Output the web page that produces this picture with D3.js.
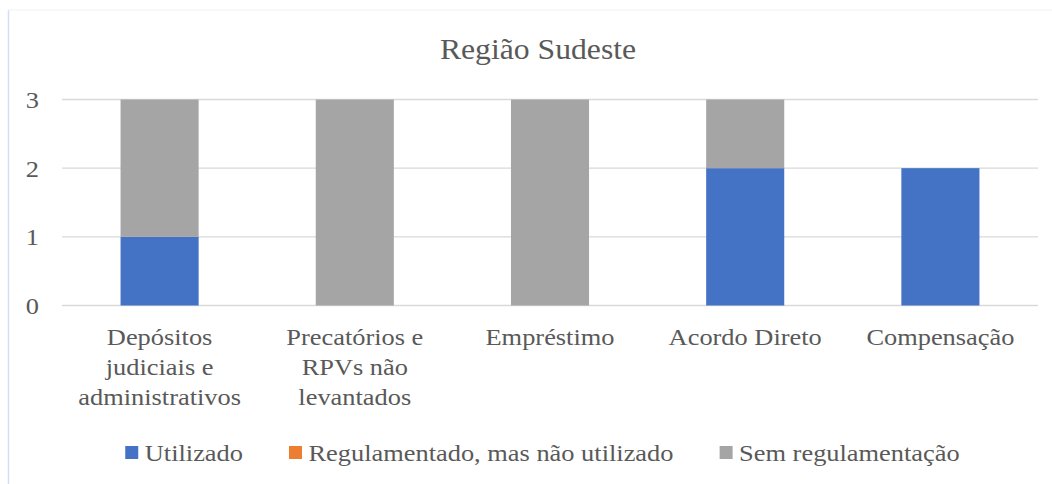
<!DOCTYPE html>
<html>
<head>
<meta charset="utf-8">
<script src="https://cdn.jsdelivr.net/npm/d3@7/dist/d3.min.js"></script>
<style>
  html, body { margin: 0; padding: 0; background: #fff; }
  svg { display: block; }
  text { font-family: "Liberation Serif", "Times New Roman", serif; fill: #595959; }
</style>
</head>
<body>
<svg id="chart" width="1052" height="484"></svg>
<script>
const title = "Região Sudeste";
const categories = [
  ["Depósitos", "judiciais e", "administrativos"],
  ["Precatórios e", "RPVs não", "levantados"],
  ["Empréstimo"],
  ["Acordo Direto"],
  ["Compensação"]
];
const seriesNames = ["Utilizado", "Regulamentado, mas não utilizado", "Sem regulamentação"];
const utilizado = [1, 0, 0, 2, 2];
const regulamentado = [0, 0, 0, 0, 0];
const semRegulamentacao = [2, 3, 3, 1, 0];
const yTicks = [0, 1, 2, 3];
const colors = ["#4472c4", "#ed7d31", "#a5a5a5"];

const svg = d3.select("#chart");
const W = 1052, H = 484;
const plot = { left: 62, right: 1038, top: 99.5, bottom: 305.5 };
const SX = 1.1; // horizontal text stretch seen in the reference
const FS = 24;

// chart area frame
svg.append("line").attr("x1", 8.5).attr("x2", 8.5).attr("y1", 10).attr("y2", H)
  .attr("stroke", "#d3def0").attr("stroke-width", 1.5);
svg.append("line").attr("x1", 8.5).attr("x2", W).attr("y1", 10).attr("y2", 10)
  .attr("stroke", "#eef1f8").attr("stroke-width", 1);

const keys = seriesNames.map((d, i) => "s" + i);
const rows = categories.map((c, i) => ({ cat: c.join(" "), s0: utilizado[i], s1: regulamentado[i], s2: semRegulamentacao[i] }));
const stack = d3.stack().keys(keys)(rows);

const x = d3.scaleBand().domain(rows.map(r => r.cat)).range([plot.left, plot.right])
  .paddingInner(0.6).paddingOuter(0.3);
const y = d3.scaleLinear().domain([0, 3]).range([plot.bottom, plot.top]);

// gridlines
svg.append("g").selectAll("line").data(yTicks).join("line")
  .attr("x1", plot.left).attr("x2", plot.right)
  .attr("y1", d => y(d)).attr("y2", d => y(d))
  .attr("stroke", "#d9d9d9").attr("stroke-width", 1.3);

// y tick labels
svg.append("g").selectAll("text").data(yTicks).join("text")
  .attr("transform", d => `translate(39,${y(d) + 8.5}) scale(${SX},1)`)
  .attr("text-anchor", "end")
  .attr("font-size", FS)
  .text(d => d);

// bars
svg.append("g").selectAll("g").data(stack).join("g")
  .attr("fill", (d, i) => colors[i])
  .selectAll("rect").data(d => d).join("rect")
  .attr("x", d => x(d.data.cat))
  .attr("width", x.bandwidth())
  .attr("y", d => y(d[1]))
  .attr("height", d => y(d[0]) - y(d[1]));

// category labels
const cg = svg.append("g").selectAll("g").data(rows).join("g");
cg.each(function(r, i) {
  const g = d3.select(this);
  categories[i].forEach((line, j) => {
    g.append("text")
      .attr("transform", `translate(${x(r.cat) + x.bandwidth() / 2},${345 + j * 30}) scale(${SX},1)`)
      .attr("text-anchor", "middle")
      .attr("font-size", FS)
      .text(line);
  });
});

// title
svg.append("text")
  .attr("transform", `translate(538,59) scale(${SX},1)`)
  .attr("text-anchor", "middle")
  .attr("font-size", 28.8)
  .text(title);

// legend
const legend = svg.append("g");
const items = legend.selectAll("g").data(seriesNames).join("g");
items.append("rect").attr("width", 13).attr("height", 13).attr("y", 446)
  .attr("fill", (d, i) => colors[i]);
items.append("text").attr("font-size", FS).text(d => d);
const widths = [];
items.select("text").each(function() { widths.push(this.getComputedTextLength() * SX); });
const sq = 13, gapT = 6.5, gapI = 46;
const total = d3.sum(widths) + seriesNames.length * (sq + gapT) + (seriesNames.length - 1) * gapI;
let cx = 542.5 - total / 2;
items.each(function(d, i) {
  const g = d3.select(this);
  g.select("rect").attr("x", cx);
  g.select("text").attr("transform", `translate(${cx + sq + gapT},460.5) scale(${SX},1)`);
  cx += sq + gapT + widths[i] + gapI;
});
</script>
</body>
</html>
